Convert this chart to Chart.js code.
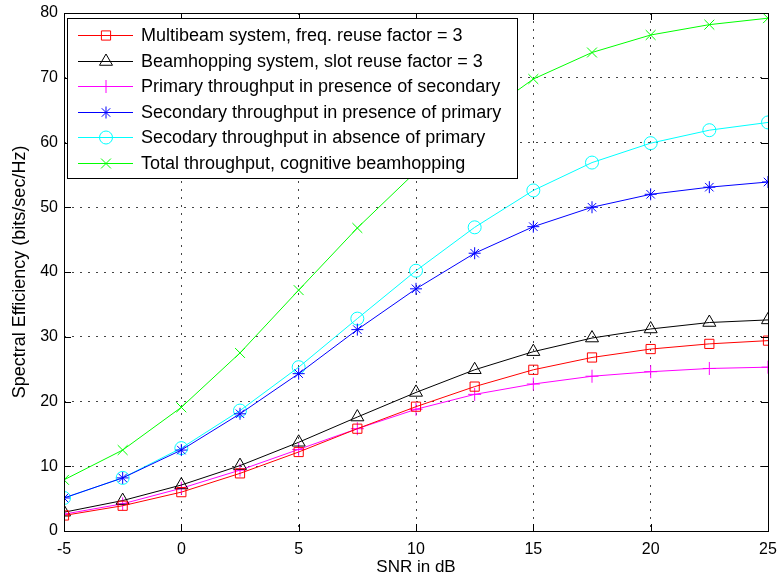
<!DOCTYPE html>
<html>
<head>
<meta charset="utf-8">
<script src="https://cdn.jsdelivr.net/npm/chart.js@4"></script>
<style>
  html, body { margin: 0; padding: 0; background: #fff; }
  #wrap { width: 780px; height: 584px; }
</style>
</head>
<body>
<div id="wrap"><canvas id="c" width="780" height="584"></canvas></div>
<script>
// SNR (dB) sample points
const snr = [-5, -2.5, 0, 2.5, 5, 7.5, 10, 12.5, 15, 17.5, 20, 22.5, 25];

// spectral efficiency, bits/sec/Hz
const multibeam   = [2.4, 3.9, 6.0, 8.9, 12.2, 15.8, 19.2, 22.3, 24.9, 26.8, 28.1, 28.9, 29.4];
const beamhopping = [2.9, 4.7, 7.1, 10.1, 13.7, 17.6, 21.4, 24.9, 27.7, 29.8, 31.2, 32.2, 32.6];
const primary     = [2.6, 4.2, 6.6, 9.4, 12.6, 15.8, 18.8, 21.1, 22.7, 23.9, 24.6, 25.1, 25.3];
const secondary   = [5.1, 8.2, 12.5, 18.1, 24.3, 31.1, 37.4, 42.9, 47.0, 50.0, 52.0, 53.1, 53.9];
const secAbsent   = [5.1, 8.2, 12.8, 18.6, 25.3, 32.8, 40.2, 46.9, 52.6, 56.9, 59.9, 61.9, 63.1];
const total       = [7.9, 12.5, 19.1, 27.5, 37.2, 46.8, 55.5, 63.3, 69.8, 73.9, 76.6, 78.2, 79.2];

const xTicks = [-5, 0, 5, 10, 15, 20, 25];
const yTicks = [0, 10, 20, 30, 40, 50, 60, 70, 80];

const labels = [
  'Multibeam system, freq. reuse factor = 3',
  'Beamhopping system, slot reuse factor = 3',
  'Primary throughput in presence of secondary',
  'Secondary throughput in presence of primary',
  'Secodary throughput in absence of primary',
  'Total throughput, cognitive beamhopping'
];

const FONT = 'Liberation Sans, Arial, sans-serif';
const NONE = 'rgba(0,0,0,0)';

function series(label, ys, color, style, radius) {
  return {
    label: label,
    data: snr.map((x, i) => ({ x: x, y: ys[i] })),
    borderColor: color,
    backgroundColor: NONE,
    borderWidth: 1,
    pointStyle: style,
    pointRadius: radius,
    pointBorderColor: color,
    pointBackgroundColor: NONE,
    pointBorderWidth: 1,
    tension: 0
  };
}

// box, inner ticks and legend, matlab style
const matlabFrame = {
  id: 'matlabFrame',
  afterDatasetsDraw(chart) {
    const ctx = chart.ctx;
    const a = chart.chartArea;
    const xs = chart.scales.x, ys = chart.scales.y;
    ctx.save();
    ctx.strokeStyle = '#000';
    ctx.lineWidth = 1;
    ctx.beginPath();
    xTicks.forEach(t => {
      const px = Math.round(xs.getPixelForValue(t)) + 0.5;
      ctx.moveTo(px, a.bottom); ctx.lineTo(px, a.bottom - 7);
      ctx.moveTo(px, a.top); ctx.lineTo(px, a.top + 7);
    });
    yTicks.forEach(t => {
      const py = Math.round(ys.getPixelForValue(t)) + 0.5;
      ctx.moveTo(a.left, py); ctx.lineTo(a.left + 7, py);
      ctx.moveTo(a.right, py); ctx.lineTo(a.right - 7, py);
    });
    ctx.stroke();
    ctx.strokeRect(Math.round(a.left) + 0.5, Math.round(a.top) + 0.5,
                   Math.round(a.right - a.left), Math.round(a.bottom - a.top));

    // legend box
    const bx = a.left + 3, by = a.top + 5, bw = 450, bh = 160;
    ctx.fillStyle = '#fff';
    ctx.fillRect(bx, by, bw, bh);
    ctx.strokeRect(bx + 0.5, by + 0.5, bw, bh);
    ctx.font = '18px ' + FONT;
    ctx.textBaseline = 'middle';
    chart.data.datasets.forEach((ds, i) => {
      const cy = Math.round(by + 17 + i * 25.6);
      ctx.strokeStyle = ds.borderColor;
      ctx.beginPath();
      ctx.moveTo(bx + 11, cy + 0.5); ctx.lineTo(bx + 66, cy + 0.5);
      ctx.stroke();
      ctx.fillStyle = NONE;
      Chart.helpers.drawPoint(ctx, {
        pointStyle: ds.pointStyle, radius: ds.pointRadius, borderWidth: 1
      }, bx + 39, cy + 0.5);
      ctx.fillStyle = '#000';
      ctx.fillText(ds.label, bx + 74, cy + 1);
    });
    ctx.restore();
  }
};

new Chart(document.getElementById('c'), {
  type: 'line',
  data: {
    datasets: [
      series(labels[0], multibeam, '#ff0000', 'rect', 6.5),
      series(labels[1], beamhopping, '#000000', 'triangle', 7.5),
      series(labels[2], primary, '#ff00ff', 'cross', 6.5),
      series(labels[3], secondary, '#0000ff', 'star', 6),
      series(labels[4], secAbsent, '#00ffff', 'circle', 6.5),
      series(labels[5], total, '#00ff00', 'crossRot', 7)
    ]
  },
  options: {
    responsive: false,
    animation: false,
    layout: { padding: { top: 13, right: 12, left: 0, bottom: 0 } },
    plugins: { legend: { display: false }, tooltip: { enabled: false } },
    scales: {
      x: {
        type: 'linear', min: -5, max: 25,
        afterBuildTicks: s => { s.ticks = xTicks.map(v => ({ value: v })); },
        afterFit: s => { s.height = 53; s.paddingLeft = 0; s.paddingRight = 0; },
        ticks: { color: '#000', font: { family: FONT, size: 16 }, padding: 9, maxRotation: 0 },
        grid: { color: '#444', lineWidth: 1, drawTicks: false, tickLength: 0 },
        border: { display: false, dash: [2, 6] },
        title: { display: true, text: 'SNR in dB', color: '#000',
                 font: { family: FONT, size: 17 }, padding: { top: 0, bottom: 6 } }
      },
      y: {
        type: 'linear', min: 0, max: 80,
        afterBuildTicks: s => { s.ticks = yTicks.map(v => ({ value: v })); },
        afterFit: s => { s.width = 64; s.paddingTop = 0; s.paddingBottom = 0; },
        ticks: { color: '#000', font: { family: FONT, size: 16 }, padding: 6 },
        grid: { color: '#444', lineWidth: 1, drawTicks: false, tickLength: 0 },
        border: { display: false, dash: [2, 6] },
        title: { display: true, text: 'Spectral Efficiency (bits/sec/Hz)', color: '#000',
                 font: { family: FONT, size: 18 }, padding: { top: 9, bottom: 0 } }
      }
    }
  },
  plugins: [matlabFrame]
});
</script>
</body>
</html>
